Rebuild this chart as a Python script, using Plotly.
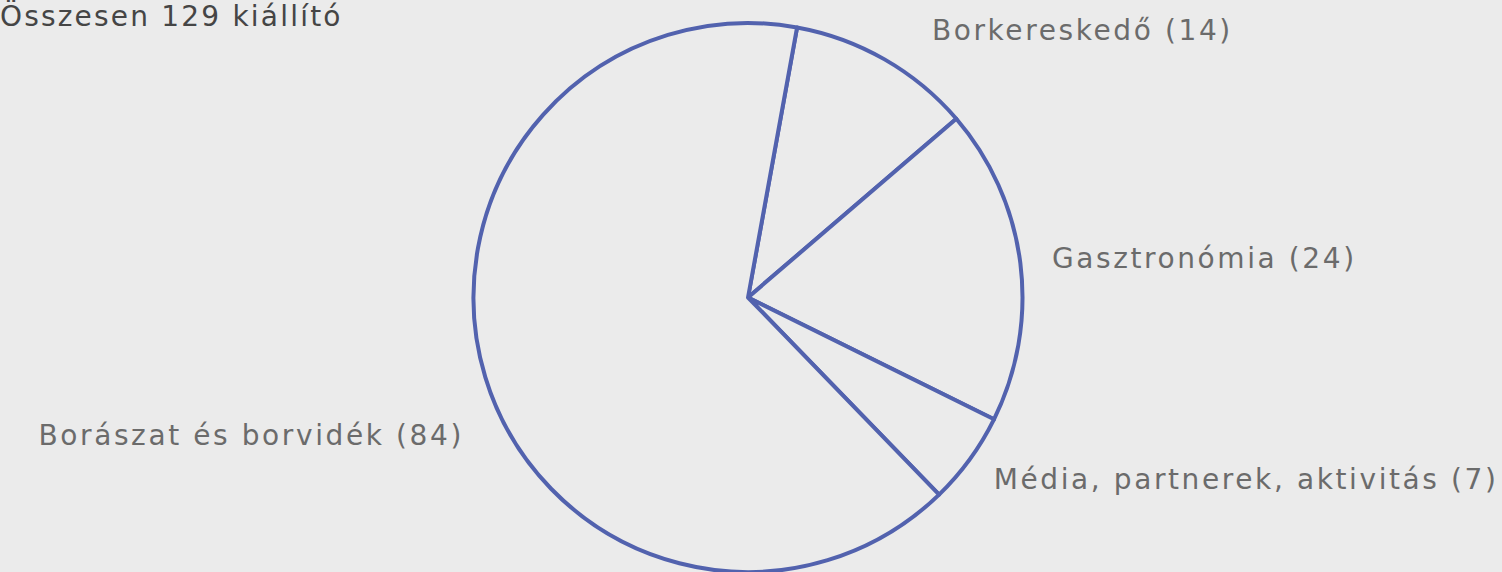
import plotly.graph_objects as go

categories = ["Borkereskedő", "Gasztronómia", "Média, partnerek, aktivitás", "Borászat és borvidék"]
values = [14, 24, 7, 84]
title_prefix = "Összesen"
title_suffix = "kiállító"

W, H = 1502, 572
BG = "#ebebeb"
LINE = "#5262ae"

# label centre positions in pixels
label_px = [(1082, 31), (1204, 258), (1246, 479), (251, 436)]
title_px = (171, 16)

cx, top, r = 748, 23, 274.5
fig = go.Figure(go.Pie(
    labels=categories,
    values=values,
    sort=False,
    direction="clockwise",
    rotation=10.3,
    textinfo="none",
    hoverinfo="label+value",
    marker=dict(colors=[BG] * len(values), line=dict(color=LINE, width=4)),
    domain=dict(x=[(cx - r) / W, (cx + r) / W], y=[0, 1 - top / H]),
    showlegend=False,
))

annotations = []
for (cat, val), (px, py) in zip(zip(categories, values), label_px):
    annotations.append(dict(
        text=f"{cat} ({val})", xref="paper", yref="paper",
        x=px / W, y=1 - py / H, xanchor="center", yanchor="middle",
        showarrow=False, font=dict(family="DejaVu Sans", size=28, color="#6b6b6b"),
    ))
annotations.append(dict(
    text=f"{title_prefix} {sum(values)} {title_suffix}", xref="paper", yref="paper",
    x=title_px[0] / W, y=1 - title_px[1] / H, xanchor="center", yanchor="middle",
    showarrow=False, font=dict(family="DejaVu Sans", size=28, color="#454545"),
))

fig.update_layout(
    width=W, height=H,
    margin=dict(l=0, r=0, t=0, b=0),
    paper_bgcolor=BG, plot_bgcolor=BG,
    annotations=annotations,
)

post = """
document.body.style.margin='0';
document.body.style.background='#ebebeb';
var st=document.createElement('style');
st.textContent='g.annotation text.annotation-text{letter-spacing:2.6px}'
  + ' g.annotation[data-index="4"] text.annotation-text{letter-spacing:2.2px}';
document.head.appendChild(st);
"""
fig.write_html("out.html", post_script=post, config={"displayModeBar": False})
